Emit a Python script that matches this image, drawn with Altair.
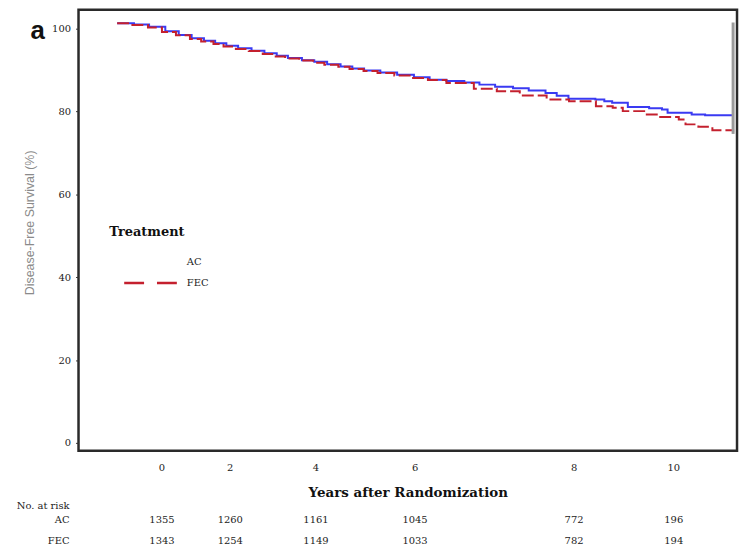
import altair as alt
import pandas as pd

# ---- Kaplan-Meier style curves (years, % disease-free) ----
ac_years = [0.0, 0.3, 0.57, 0.86, 1.1, 1.33, 1.55, 1.75, 1.95, 2.16, 2.4, 2.63, 2.85, 3.05, 3.3,
            3.52, 3.75, 3.99, 4.2, 4.41, 4.7, 5.0, 5.3, 5.58, 5.88, 6.2, 6.47, 6.75, 7.07, 7.35,
            7.65, 7.85, 8.06, 8.54, 8.7, 8.84, 9.12, 9.5, 9.73, 9.83, 10.26, 10.5, 11.0]
ac_surv = [101.3, 101.0, 100.5, 99.4, 98.5, 97.7, 97.1, 96.5, 95.9, 95.3, 94.7, 94.1, 93.5, 92.9, 92.4,
           92.0, 91.4, 90.9, 90.4, 89.9, 89.4, 88.9, 88.3, 87.7, 87.4, 87.0, 86.5, 86.0, 85.6, 85.1,
           84.5, 83.8, 83.1, 82.9, 82.5, 82.1, 81.1, 80.8, 80.5, 79.7, 79.3, 79.1, 79.1]

fec_years = [0.0, 0.25, 0.55, 0.8, 1.05, 1.3, 1.5, 1.72, 1.9, 2.12, 2.35, 2.6, 2.8, 3.0, 3.25,
             3.5, 3.7, 3.95, 4.15, 4.4, 4.65, 4.95, 5.25, 5.55, 5.88, 6.37, 6.78, 7.19, 7.67,
             8.07, 8.55, 8.85, 9.03, 9.44, 9.67, 10.03, 10.15, 10.38, 10.63, 11.0]
fec_surv = [101.3, 100.9, 100.3, 99.2, 98.4, 97.5, 96.9, 96.3, 95.7, 95.1, 94.6, 93.9, 93.3, 92.8, 92.3,
            91.8, 91.3, 90.8, 90.3, 89.8, 89.3, 88.7, 88.1, 87.6, 86.9, 85.5, 84.9, 83.9, 82.9,
            82.5, 81.3, 80.9, 80.1, 79.3, 78.7, 78.1, 76.9, 76.3, 75.5, 75.1]

# ---- number at risk table ----
risk_cols = [0.80, 2.02, 3.55, 5.32, 8.16, 9.94]   # column positions on the time axis
risk_year_labels = ["0", "2", "4", "6", "8", "10"]
risk_ac = ["1355", "1260", "1161", "1045", "772", "196"]
risk_fec = ["1343", "1254", "1149", "1033", "782", "194"]

y_ticks = [0, 20, 40, 60, 80, 100]
censor_x = [11.0]
censor_y = [101.5]
censor_y2 = [74.6]

BLUE = "#3a3af2"
RED = "#c4202e"
SERIF = "DejaVu Serif"

x_scale = alt.Scale(domain=[-0.69, 11.07], nice=False, zero=False)
y_scale = alt.Scale(domain=[-1.92, 104.56], nice=False, zero=False)

ac_df = pd.DataFrame({"t": ac_years, "s": ac_surv})
fec_df = pd.DataFrame({"t": fec_years, "s": fec_surv})

x_enc = alt.X("t:Q", scale=x_scale,
              axis=alt.Axis(title="Years after Randomization", labels=False, ticks=False,
                            domain=False, grid=False, titleFont=SERIF, titleFontSize=13.5,
                            titleFontWeight="bold", titleColor="#111", titlePadding=35))
y_enc = alt.Y("s:Q", scale=y_scale,
              axis=alt.Axis(title="Disease-Free Survival (%)", values=y_ticks, grid=False,
                            domain=False, tickSize=3, tickColor="#333", labelPadding=5,
                            labelFont=SERIF, labelFontSize=10, labelColor="#222",
                            titleFont="Liberation Sans", titleFontSize=12.5,
                            titleFontWeight="normal", titleColor="#8a8a8a",
                            titleX=-49, titleY=214, titleAlign="center",
                            titleBaseline="middle", titleAngle=270))

ac_line = alt.Chart(ac_df).mark_line(interpolate="step-after", color=BLUE, strokeWidth=2).encode(
    x=x_enc, y=y_enc)
fec_line = alt.Chart(fec_df).mark_line(interpolate="step-after", color=RED, strokeWidth=2,
                                       strokeDash=[12, 4]).encode(x="t:Q", y="s:Q")

censor = alt.Chart(pd.DataFrame({"t": censor_x, "s": censor_y, "s2": censor_y2})).mark_rule(
    color="#9a9a9a", strokeWidth=3).encode(x="t:Q", y="s:Q", y2="s2:Q")

risk_df = pd.DataFrame({"t": risk_cols, "yr": risk_year_labels, "ac": risk_ac, "fec": risk_fec})
tick_txt = alt.Chart(risk_df).mark_text(font=SERIF, fontSize=10, color="#222").encode(
    x="t:Q", y=alt.value(461), text="yr:N")
ac_txt = alt.Chart(risk_df).mark_text(font=SERIF, fontSize=10, color="#222").encode(
    x="t:Q", y=alt.value(514), text="ac:N")
fec_txt = alt.Chart(risk_df).mark_text(font=SERIF, fontSize=10, color="#222").encode(
    x="t:Q", y=alt.value(535), text="fec:N")

row_df = pd.DataFrame({"lab": ["No. at risk", "AC", "FEC"], "yy": [500, 514, 535]})
row_txt = alt.Chart(row_df).mark_text(font=SERIF, fontSize=10, color="#222", align="right").encode(
    x=alt.value(-9), y=alt.Y("yy:Q", scale=None), text="lab:N")

panel = alt.Chart(pd.DataFrame({"lab": ["a"]})).mark_text(
    font="Liberation Sans", fontSize=26, fontWeight="bold", color="#111").encode(
    x=alt.value(-41), y=alt.value(21), text="lab:N")

leg_df = pd.DataFrame({"lab": ["Treatment", "AC", "FEC"], "xx": [31, 109, 109], "yy": [224, 254, 275]})
leg_title = alt.Chart(leg_df.iloc[[0]]).mark_text(font=SERIF, fontSize=13, fontWeight="bold",
                                                  color="#111", align="left").encode(
    x=alt.X("xx:Q", scale=None), y=alt.Y("yy:Q", scale=None), text="lab:N")
leg_items = alt.Chart(leg_df.iloc[1:]).mark_text(font=SERIF, fontSize=10, color="#222",
                                                 align="left").encode(
    x=alt.X("xx:Q", scale=None), y=alt.Y("yy:Q", scale=None), text="lab:N")
leg_line = alt.Chart(pd.DataFrame({"k": ["FEC"]})).mark_rule(
    color=RED, strokeWidth=2.5, strokeDash=[20, 13]).encode(
    x=alt.value(46), x2=alt.value(101), y=alt.value(275))

chart = alt.layer(ac_line, fec_line, censor, tick_txt, ac_txt, fec_txt, row_txt, panel,
                  leg_title, leg_items, leg_line).properties(
    width=663, height=444,
    padding={"left": 71, "top": 0, "right": 3, "bottom": 94},
    autosize=alt.AutoSizeParams(type="none"),
    background="white",
).configure_view(stroke="#2a2a2a", strokeWidth=2.5)

chart.save("out.html", embed_options={"renderer": "svg", "actions": False})
